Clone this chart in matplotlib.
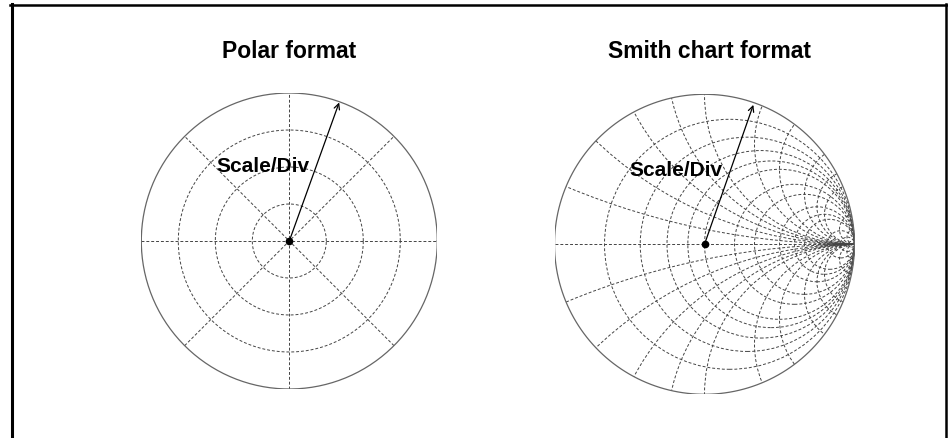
import numpy as np
import matplotlib
matplotlib.use("Agg")
import matplotlib.pyplot as plt
from matplotlib.patches import Circle
from matplotlib.lines import Line2D

# Grid values
polar_rings = [0.25, 0.5, 0.75]
polar_spokes_deg = [0, 45, 90, 135]
smith_r = [0.2, 0.4, 0.6, 0.8, 1, 1.5, 2, 3, 4, 5, 10, 20, 50]
smith_x = [0.2, 0.4, 0.6, 0.8, 1, 1.5, 2, 3, 4, 5, 10, 20]
arrow_angle_deg = [70.2, 70.7]
arrow_len = [0.995, 0.985]
titles = ["Polar format", "Smith chart format"]
label = "Scale/Div"

plt.rcParams['font.family'] = ['Liberation Sans', 'DejaVu Sans']

W, H = 948, 438
fig = plt.figure(figsize=(W / 100, H / 100), dpi=100)

grid_kw = dict(color='#444444', lw=0.7, ls=(0, (3, 2)))
outer_kw = dict(color='#666666', lw=0.9)


def make_ax(cx, cy, R):
    ax = fig.add_axes([(cx - R) / W, (H - cy - R) / H, 2 * R / W, 2 * R / H])
    ax.set_xlim(-1, 1)
    ax.set_ylim(-1, 1)
    ax.axis('off')
    return ax


# Polar format
ax1 = make_ax(289.3, 241, 148)
t = np.linspace(0, 2 * np.pi, 400)
for r in polar_rings:
    ax1.plot(r * np.cos(t), r * np.sin(t), **grid_kw)
for a in polar_spokes_deg:
    a = np.deg2rad(a)
    ax1.plot([-np.cos(a), np.cos(a)], [-np.sin(a), np.sin(a)], **grid_kw)
ax1.plot(np.cos(t), np.sin(t), **outer_kw)

# Smith chart format
ax2 = make_ax(704.5, 244.3, 150)
edge = Circle((0, 0), 1, transform=ax2.transData, fill=False, visible=False)
ax2.add_patch(edge)
for r in smith_r:
    c = Circle((r / (r + 1), 0), 1 / (r + 1), fill=False, **grid_kw)
    ax2.add_patch(c)
for x in smith_x:
    for s in (1, -1):
        c = Circle((1, s / x), 1 / x, fill=False, **grid_kw)
        ax2.add_patch(c)
        c.set_clip_path(edge)
ax2.plot([-1, 1], [0, 0], **grid_kw)
ax2.plot(np.cos(t), np.sin(t), **outer_kw)

# arrows and centre dots
for ax, ang, ln in zip([ax1, ax2], arrow_angle_deg, arrow_len):
    a = np.deg2rad(ang)
    ax.annotate('', xy=(ln * np.cos(a), ln * np.sin(a)), xytext=(0, 0),
                arrowprops=dict(arrowstyle='->', color='black', lw=0.9,
                                shrinkA=0, shrinkB=0, mutation_scale=10))
    ax.plot([0], [0], 'o', color='black', ms=4.5, zorder=5)

# texts
fig.text(289.2 / W, 1 - 58 / H, titles[0], ha='center', va='baseline',
         fontsize=16.5, fontweight='bold')
fig.text(710 / W, 1 - 58 / H, titles[1], ha='center', va='baseline',
         fontsize=16.5, fontweight='bold')
fig.text(262.5 / W, 1 - 171.5 / H, label, ha='center', va='baseline',
         fontsize=15, fontweight='bold')
fig.text(675.7 / W, 1 - 176.5 / H, label, ha='center', va='baseline',
         fontsize=15, fontweight='bold')

# frame (top, left, right)
fig.add_artist(Line2D([10 / W, 1], [1 - 5 / H, 1 - 5 / H], color='black', lw=1.8,
                      transform=fig.transFigure))
fig.add_artist(Line2D([11.5 / W, 11.5 / W], [0, 1 - 4 / H], color='black', lw=2.2,
                      transform=fig.transFigure))
fig.add_artist(Line2D([946 / W, 946 / W], [0, 1 - 4 / H], color='black', lw=1.8,
                      transform=fig.transFigure))

fig.savefig('out.png', dpi=100, facecolor='white')
